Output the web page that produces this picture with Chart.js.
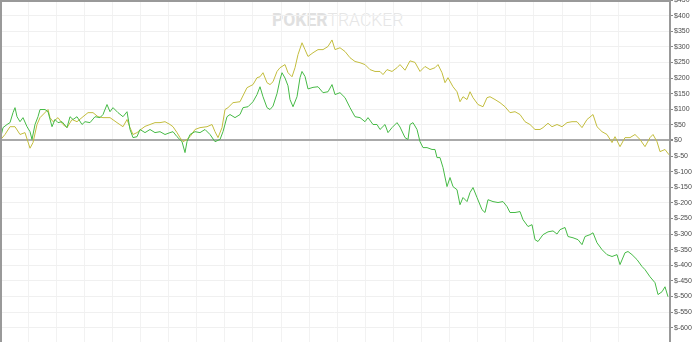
<!DOCTYPE html>
<html><head><meta charset="utf-8">
<script src="https://cdn.jsdelivr.net/npm/chart.js@4"></script>
<style>
html,body{margin:0;padding:0;background:#fff;}
#wrap{position:relative;width:700px;height:342px;overflow:hidden;}
#wm{position:absolute;left:272px;top:10px;font-family:Roboto,'Open Sans',sans-serif;font-size:17.5px;color:#e0e0e0;white-space:nowrap;}
#c{position:absolute;left:0;top:0;}
</style></head><body>
<div id="wrap"><div id="wm"><b>POKER</b><span style="font-weight:300;color:#e6e6e6">TRACKER</span></div><canvas id="c" width="700" height="342"></canvas></div>
<script>
// x positions are hand numbers (in units of 10 hands)
const handsOlive = [0,5,10,15,20,25,30,33,37,40,48,50,53,58,63,67,72,77,83,88,93,98,103,110,117,123,127,130,133,137,140,145,150,155,160,165,170,173,177,180,183,187,190,195,200,207,212,215,218,222,225,228,233,240,247,253,257,260,263,267,270,273,277,280,285,288,292,295,298,302,305,308,313,318,323,328,332,335,340,345,350,355,360,365,370,375,380,383,387,392,397,400,405,410,415,420,425,430,435,438,442,445,448,453,457,460,463,467,470,473,478,483,487,490,495,500,505,510,515,520,525,530,535,540,543,548,552,557,562,567,572,577,582,587,593,597,602,607,612,615,620,625,630,635,640,645,650,653,657,660,665,669];
const netOlive = [0,19,44,44,19,25,-25,-7,51,73,99,73,60,73,51,41,67,60,76,89,89,76,73,73,57,44,67,41,19,25,33,45,51,57,57,60,51,44,25,9,-4,3,12,35,41,44,51,28,9,41,99,105,121,124,169,179,201,204,217,185,179,188,221,233,243,217,204,233,275,313,291,269,281,291,291,301,322,291,297,285,265,253,249,243,227,221,221,211,227,221,233,243,225,255,250,221,237,227,233,243,217,185,201,172,156,124,140,131,156,137,115,108,137,140,131,121,108,89,92,83,60,51,35,35,41,55,44,51,44,57,60,60,41,67,83,44,28,19,-7,12,-20,9,9,19,3,-20,9,19,-4,-36,-29,-46];
const handsGreen = [0,3,7,10,13,15,17,20,23,27,30,32,35,38,40,45,48,52,55,58,62,67,70,73,77,82,85,90,95,100,103,107,110,113,118,123,127,130,133,137,140,145,150,155,160,165,170,173,177,182,185,187,190,195,200,205,210,215,220,223,227,230,235,240,243,248,253,257,260,263,267,270,273,277,280,282,285,288,290,293,297,300,302,305,308,313,318,323,328,332,335,340,345,350,355,360,365,368,373,377,380,385,388,392,397,400,405,408,410,413,417,420,423,427,432,435,437,440,443,447,450,453,457,460,463,467,470,473,477,482,485,488,493,498,503,507,510,515,520,523,528,532,535,538,543,548,553,557,560,565,568,573,578,582,585,590,593,597,602,607,612,617,620,625,628,632,637,642,645,650,655,658,662,665,668];
const netGreen = [0,41,51,57,89,105,76,60,73,44,28,3,51,76,99,99,92,44,67,57,60,41,76,67,76,51,60,57,76,73,83,115,92,105,89,76,92,35,9,12,35,25,35,25,28,19,25,28,12,-4,-39,-4,19,28,25,35,19,-4,3,28,76,83,73,83,105,108,124,147,172,140,105,99,110,150,195,217,200,175,131,108,140,201,221,205,165,170,172,153,156,179,147,153,137,105,76,73,60,73,51,51,35,51,25,41,57,43,9,3,51,57,35,-4,-23,-23,-29,-29,-55,-55,-87,-148,-119,-148,-158,-206,-183,-196,-167,-151,-183,-222,-231,-190,-196,-199,-196,-212,-231,-231,-228,-254,-276,-270,-318,-324,-302,-293,-290,-300,-286,-279,-308,-312,-318,-334,-308,-302,-296,-328,-350,-366,-372,-366,-398,-360,-356,-366,-382,-404,-414,-437,-456,-494,-485,-469,-501];
const yTicks = [450,400,350,300,250,200,150,100,50,0,-50,-100,-150,-200,-250,-300,-350,-400,-450,-500,-550,-600];

const framePlugin = {
  id:'frame',
  afterDraw(chart){
    const {ctx, chartArea:a} = chart;
    ctx.save();
    ctx.strokeStyle = '#999';
    ctx.lineWidth = 2;
    ctx.beginPath();
    ctx.moveTo(a.left + 1, a.bottom); ctx.lineTo(a.left + 1, a.top + 1); ctx.lineTo(a.right, a.top + 1);
    ctx.stroke();
    ctx.restore();
  }
};

new Chart(document.getElementById('c'), {
  type:'line',
  data:{datasets:[
    {label:'Net won (all-in EV)', data: handsGreen.map((h,i)=>({x:h,y:netGreen[i]})), borderColor:'#46ba46', borderWidth:1, pointRadius:0, tension:0},
    {label:'Net won', data: handsOlive.map((h,i)=>({x:h,y:netOlive[i]})), borderColor:'#c3bd3e', borderWidth:1, pointRadius:0, tension:0}
  ]},
  options:{
    animation:false, responsive:false,
    layout:{padding:0},
    plugins:{legend:{display:false}, tooltip:{enabled:false}},
    scales:{
      x:{type:'linear', min:0, max:670, ticks:{display:false, stepSize:28.1}, grid:{color:'#f2f2f2', drawTicks:false}, border:{display:false},
        afterFit: s => { s.height = 0; s.paddingLeft = 0; s.paddingRight = 0; }},
      y:{position:'right', min:-646, max:450,
        afterBuildTicks: s => { s.ticks = yTicks.map(v => ({value:v})); },
        afterFit: s => { s.width = 30; s.paddingTop = 0; s.paddingBottom = 0; },
        ticks:{callback: v => '$' + v, font:{size:7, family:'Liberation Sans'}, color:'#4a4a4a', padding:1, autoSkip:false},
        grid:{color: c => c.tick && c.tick.value === 0 ? '#aaaaaa' : '#f0f0f0', lineWidth: c => c.tick && c.tick.value === 0 ? 2 : 1, tickLength:3, tickColor:'#888'},
        border:{color:'#999', width:2}}
    }
  },
  plugins:[framePlugin]
});
</script>
</body></html>
